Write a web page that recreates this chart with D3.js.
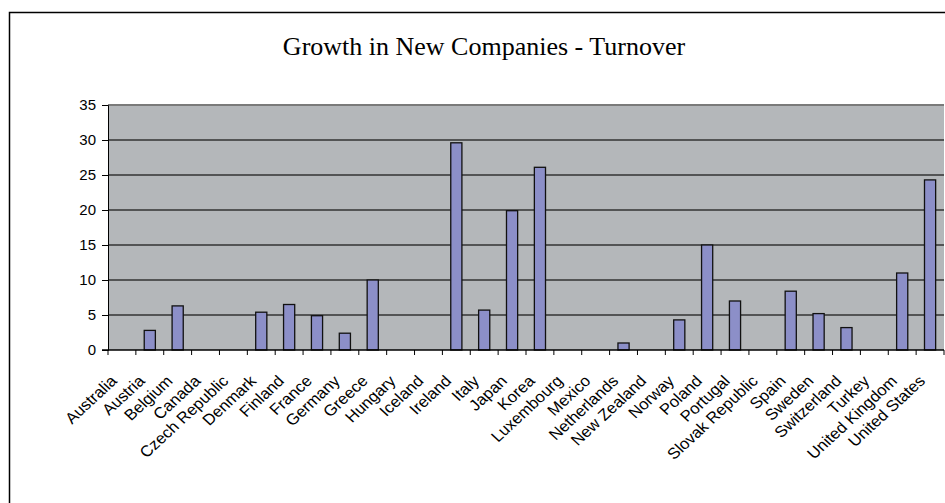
<!DOCTYPE html>
<html>
<head>
<meta charset="utf-8">
<script src="https://cdn.jsdelivr.net/npm/d3@7"></script>
<style>
  html, body { margin: 0; padding: 0; background: #ffffff; }
  svg { display: block; }
</style>
</head>
<body>
<svg id="chart" width="945" height="503"></svg>
<script>
// Chart data
const countries = [
  "Australia", "Austria", "Belgium", "Canada", "Czech Republic", "Denmark",
  "Finland", "France", "Germany", "Greece", "Hungary", "Iceland", "Ireland",
  "Italy", "Japan", "Korea", "Luxembourg", "Mexico", "Netherlands",
  "New Zealand", "Norway", "Poland", "Portugal", "Slovak Republic", "Spain",
  "Sweden", "Switzerland", "Turkey", "United Kingdom", "United States"
];
const turnoverGrowth = [
  null, 2.8, 6.3, null, null, 5.4,
  6.5, 4.9, 2.4, 10.0, null, null, 29.6,
  5.7, 19.9, 26.1, null, null, 1.0,
  null, 4.3, 15.0, 7.0, null, 8.4,
  5.2, 3.2, null, 11.0, 24.3
];
const yTicks = [0, 5, 10, 15, 20, 25, 30, 35];
const chartTitle = "Growth in New Companies - Turnover";

const svg = d3.select("#chart");

// Outer chart frame (runs off the right and bottom edges)
svg.append("rect")
  .attr("x", 9.5).attr("y", 12.5)
  .attr("width", 960).attr("height", 500)
  .attr("fill", "#ffffff")
  .attr("stroke", "#000000")
  .attr("stroke-width", 1.5);

svg.append("text")
  .attr("x", 484).attr("y", 55)
  .attr("text-anchor", "middle")
  .attr("font-family", "'Liberation Serif', 'Times New Roman', serif")
  .attr("font-size", 26)
  .attr("fill", "#000")
  .text(chartTitle);

const plot = { left: 108, right: 944, top: 105, bottom: 350 };

const y = d3.scaleLinear().domain([0, 35]).range([plot.bottom, plot.top]);
const cat = d3.scaleBand().domain(countries).range([plot.left, plot.right]).padding(0);
const x = d3.scaleBand().domain(countries).range([plot.left, plot.right])
  .paddingInner(0.6).paddingOuter(0.3);

// Plot area background
svg.append("rect")
  .attr("x", plot.left).attr("y", plot.top)
  .attr("width", plot.right - plot.left).attr("height", plot.bottom - plot.top)
  .attr("fill", "#b4b7ba");

// Gridlines
svg.append("g")
  .selectAll("line")
  .data(yTicks.filter(d => d > 0))
  .join("line")
  .attr("x1", plot.left).attr("x2", plot.right)
  .attr("y1", d => y(d)).attr("y2", d => y(d))
  .attr("stroke", d => d === 35 ? "#7a7a7a" : "#333333")
  .attr("stroke-width", d => d === 35 ? 2 : 1.3);

// Bars
svg.append("g")
  .selectAll("rect")
  .data(countries.map((c, i) => ({ c, v: turnoverGrowth[i] })).filter(d => d.v !== null))
  .join("rect")
  .attr("x", d => x(d.c))
  .attr("y", d => y(d.v))
  .attr("width", x.bandwidth())
  .attr("height", d => y(0) - y(d.v))
  .attr("fill", "#8c8fc8")
  .attr("stroke", "#111111")
  .attr("stroke-width", 1.3);

// Y axis
const yAxis = d3.axisLeft(y).tickValues(yTicks).tickSize(6).tickPadding(6);
const gy = svg.append("g")
  .attr("transform", `translate(${plot.left},0)`)
  .call(yAxis);
gy.select(".domain").attr("stroke", "#000").attr("stroke-width", 1);
gy.selectAll(".tick line").attr("stroke", "#000");
gy.selectAll(".tick text")
  .attr("font-family", "'Liberation Sans', Arial, sans-serif")
  .attr("font-size", 15)
  .attr("fill", "#000");

// X axis baseline and category boundary ticks
svg.append("line")
  .attr("x1", plot.left - 6).attr("x2", plot.right)
  .attr("y1", plot.bottom).attr("y2", plot.bottom)
  .attr("stroke", "#000").attr("stroke-width", 1.3);

const boundaries = countries.map(c => cat(c)).concat([plot.right]);
svg.append("g")
  .selectAll("line")
  .data(boundaries)
  .join("line")
  .attr("x1", d => d).attr("x2", d => d)
  .attr("y1", plot.bottom).attr("y2", plot.bottom + 5)
  .attr("stroke", "#000");

// Rotated category labels (slightly widened)
svg.append("g")
  .selectAll("text")
  .data(countries)
  .join("text")
  .attr("transform", d => `translate(${cat(d) + cat.bandwidth() / 2 - 4},${plot.bottom + 32}) scale(1.08,1) rotate(-45)`)
  .attr("text-anchor", "end")
  .attr("font-family", "'Liberation Sans', Arial, sans-serif")
  .attr("font-size", 15.5)
  .attr("fill", "#000")
  .text(d => d);
</script>
</body>
</html>
